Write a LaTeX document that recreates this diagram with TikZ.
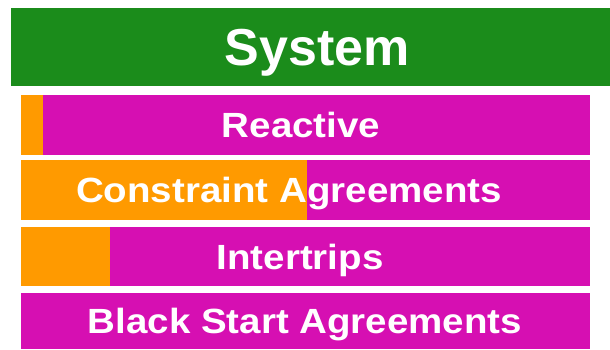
\documentclass[tikz,border=0pt]{standalone}
\usepackage{fontspec}
\setmainfont{Liberation Sans}
\definecolor{sysgreen}{HTML}{1B8C1B}
\definecolor{barmagenta}{HTML}{D60FB2}
\definecolor{barorange}{HTML}{FF9A00}
\newcommand{\widelabel}[1]{\scalebox{1.1}[1]{#1}}
\tikzset{
  headbar/.style={fill=sysgreen},
  rowbar/.style={fill=barmagenta},
  donebar/.style={fill=barorange},
  headtext/.style={anchor=base, text=white, inner sep=0pt,
                   font=\bfseries\fontsize{52}{56}\selectfont},
  rowtext/.style={anchor=base, text=white, inner sep=0pt,
                  font=\bfseries\fontsize{35}{38}\selectfont},
}
\begin{document}
\begin{tikzpicture}[x=1pt, y=-1pt]

  \useasboundingbox (0,0) rectangle (610,349);

  % Header
  \fill[headbar] (11,8) rectangle (610,86);
  \node[headtext] (system) at (317,65.6) {System};

  % Bars
  \fill[rowbar] (21,95) rectangle (590,155);
  \fill[donebar] (21,95) rectangle (43,155);
  \fill[rowbar] (21,160) rectangle (590,220);
  \fill[donebar] (21,160) rectangle (307,220);
  \fill[rowbar] (21,227) rectangle (590,286);
  \fill[donebar] (21,227) rectangle (110,286);
  \fill[rowbar] (21,293) rectangle (590,349);

  % Bar labels
  \node[rowtext] (reactive)   at (301,137.5) {\widelabel{Reactive}};
  \node[rowtext] (constraint) at (289,202.5) {\widelabel{Constraint Agreements}};
  \node[rowtext] (intertrips) at (300,269) {\widelabel{Intertrips}};
  \node[rowtext] (blackstart) at (305,333.5) {\widelabel{Black Start Agreements}};

\end{tikzpicture}
\end{document}
